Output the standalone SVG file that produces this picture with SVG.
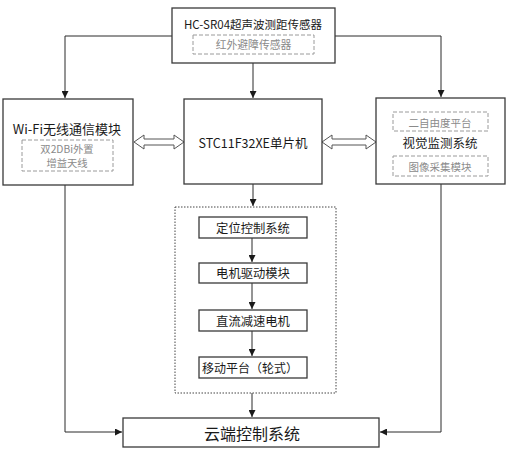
<svg xmlns="http://www.w3.org/2000/svg" width="509" height="457" viewBox="0 0 509 457">
<style>
.box{fill:#fff;stroke:#3a3a3a;stroke-width:1.3}
.dash{fill:none;stroke:#9a9a9a;stroke-width:1;stroke-dasharray:4,2}
.dot{fill:none;stroke:#444;stroke-width:1;stroke-dasharray:1.5,1.5}
.t{font-family:"Noto Sans CJK SC","Noto Sans",sans-serif;fill:#1a1a1a;text-anchor:middle;dominant-baseline:central}
.g{font-family:"Noto Sans CJK SC","Noto Sans",sans-serif;fill:#8a8a8a;text-anchor:middle;dominant-baseline:central}
.ln{fill:none;stroke:#2a2a2a;stroke-width:1}
.dbl{fill:#fff;stroke:#555;stroke-width:1}
</style>
<defs>
<marker id="ah" viewBox="0 0 8 8" refX="8" refY="4" markerWidth="7" markerHeight="7" markerUnits="userSpaceOnUse" orient="auto">
<path d="M0,0 L8,4 L0,8 Z" fill="#1a1a1a"/>
</marker>
</defs>
<rect width="509" height="457" fill="#fff"/>
<g id="connectors">
<path class="ln" d="M172,36 H65 V98" marker-end="url(#ah)"/>
<path class="ln" d="M335,36 H441 V97" marker-end="url(#ah)"/>
<path class="ln" d="M253,63 V98" marker-end="url(#ah)"/>
<path class="ln" d="M253,184 V206" marker-end="url(#ah)"/>
<path class="ln" d="M252,238 V262" marker-end="url(#ah)"/>
<path class="ln" d="M252,283 V309" marker-end="url(#ah)"/>
<path class="ln" d="M252,331 V356" marker-end="url(#ah)"/>
<path class="ln" d="M252,393 V417" marker-end="url(#ah)"/>
<path class="ln" d="M65,185 V432 H122" marker-end="url(#ah)"/>
<path class="ln" d="M441,184 V432 H380" marker-end="url(#ah)"/>
<polygon class="dbl" points="134,142 144,135 144,139 174,139 174,135 184,142 174,149 174,145 144,145 144,149"/>
<polygon class="dbl" points="322,142 332,135 332,139 366,139 366,135 376,142 366,149 366,145 332,145 332,149"/>
</g>
<g id="sensor">
<rect class="box" x="172" y="8" width="163" height="55"/>
<text class="t" x="253" y="24" font-size="11.5">HC-SR04超声波测距传感器</text>
<rect class="dash" x="193" y="35" width="121" height="19"/>
<text class="g" x="253.5" y="44" font-size="10.8">红外避障传感器</text>
</g>
<g id="wifi">
<rect class="box" x="3" y="99" width="130" height="86"/>
<text class="t" x="67" y="128" font-size="13">Wi-Fi无线通信模块</text>
<rect class="dash" x="22" y="140" width="91" height="31"/>
<text class="g" x="67" y="148.5" font-size="10.3">双2DBi外置</text>
<text class="g" x="67" y="162" font-size="10.3">增益天线</text>
</g>
<g id="mcu">
<rect class="box" x="184" y="99" width="138" height="85"/>
<text class="t" x="253" y="142" font-size="12.5">STC11F32XE单片机</text>
</g>
<g id="vision">
<rect class="box" x="376" y="98" width="129" height="86"/>
<rect class="dash" x="393" y="112" width="95" height="19"/>
<text class="g" x="440" y="122" font-size="10.5">二自由度平台</text>
<text class="t" x="440" y="142" font-size="12.5">视觉监测系统</text>
<rect class="dash" x="393" y="156" width="95" height="20"/>
<text class="g" x="440" y="166" font-size="10.5">图像采集模块</text>
</g>
<g id="drive-group">
<rect class="dot" x="175" y="207" width="161" height="186"/>
</g>
<g id="positioning">
<rect class="box" x="199" y="217" width="108" height="21"/>
<text class="t" x="253" y="227.5" font-size="12.3">定位控制系统</text>
</g>
<g id="motor-driver">
<rect class="box" x="199" y="263" width="108" height="20"/>
<text class="t" x="253" y="273" font-size="12.3">电机驱动模块</text>
</g>
<g id="dc-motor">
<rect class="box" x="199" y="310" width="108" height="21"/>
<text class="t" x="253" y="320.5" font-size="12.3">直流减速电机</text>
</g>
<g id="platform">
<rect class="box" x="199" y="357" width="108" height="21"/>
<text class="t" x="250" y="367.5" font-size="12">移动平台（轮式）</text>
</g>
<g id="cloud">
<rect class="box" x="123" y="418" width="256" height="29"/>
<text class="t" x="252" y="432.5" font-size="16">云端控制系统</text>
</g>
</svg>
